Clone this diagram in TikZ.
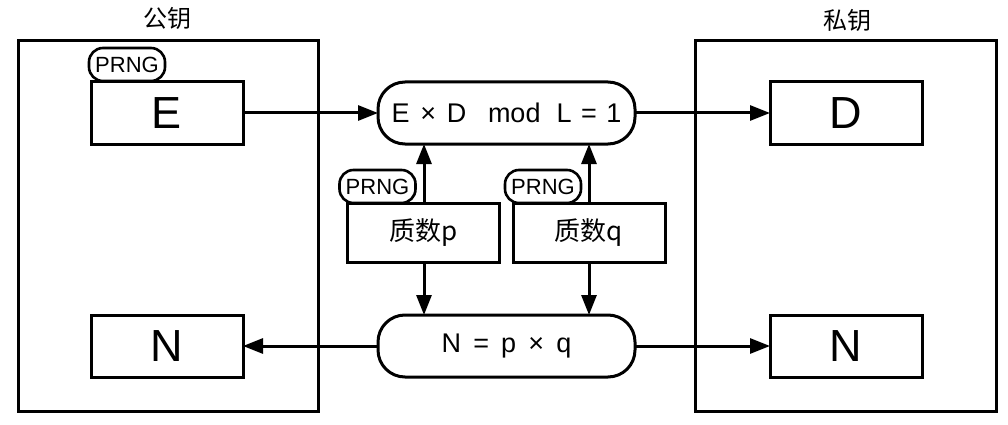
\documentclass[tikz,border=0pt]{standalone}
\usepackage{fontspec}
\setmainfont{Liberation Sans}
\newfontfamily\cjk{Noto Sans CJK SC}
\usetikzlibrary{arrows.meta}
\begin{document}
\begin{tikzpicture}[x=1pt,y=-1pt,
  every node/.style={inner sep=0pt,outer sep=0pt},
  frame/.style={draw,line width=3pt},
  keybox/.style={draw,line width=3pt,fill=white,minimum width=152pt,minimum height=62pt,font=\fontsize{45}{45}\selectfont},
  primebox/.style={draw,line width=3pt,fill=white,minimum width=152pt,minimum height=59pt,font=\cjk\fontsize{26}{26}\selectfont},
  calc/.style={draw,line width=3pt,fill=white,rounded corners=27pt,minimum width=257pt,minimum height=62pt,font=\fontsize{27}{27}\selectfont},
  prng/.style={draw,line width=2.6pt,fill=white,rounded corners=14pt,minimum width=76pt,minimum height=33pt,font=\fontsize{22}{22}\selectfont},
  ttl/.style={font=\cjk\fontsize{24}{24}\selectfont},
  arr/.style={line width=3pt,-{Triangle[length=20pt,width=15pt]}}
]
\useasboundingbox (0,0) rectangle (1008,425);
% outer frames
\draw[frame] (18,41) rectangle (318,411);
\draw[frame] (695,41) rectangle (996,411);
\node[ttl] (pub) at (167,18) {公钥};
\node[ttl] (priv) at (847,20) {私钥};
% key boxes
\node[keybox] (E) at (167,113) {E};
\node[keybox] (NL) at (167,346) {N};
\node[keybox] (D) at (846,113) {D};
\node[keybox] (NR) at (846,346) {N};
% calc pills
\node[calc] (ED) at (506.5,113) {E\hspace{0.4em}×\hspace{0.4em}D\hspace{0.8em}mod\hspace{0.6em}L\hspace{0.35em}=\hspace{0.35em}1};
\node[calc] (NPQ) at (506.5,346) {N\hspace{0.45em}=\hspace{0.45em}p\hspace{0.45em}×\hspace{0.45em}q};
% primes
\node[primebox] (P) at (423.5,232.5) {质数p};
\node[primebox] (Q) at (589,232.5) {质数q};
% PRNG pills
\node[prng,anchor=south] (prE) at (127,81) {PRNG};
\node[prng,anchor=south] (prP) at (377.5,203) {PRNG};
\node[prng,anchor=south] (prQ) at (543,203) {PRNG};
% arrows
\draw[arr] (E.east) -- (ED.west);
\draw[arr] (ED.east) -- (D.west);
\draw[arr] (NPQ.west) -- (NL.east);
\draw[arr] (NPQ.east) -- (NR.west);
\draw[arr] (P.north -| 424,0) -- (ED.south -| 424,0);
\draw[arr] (Q.north -| 589,0) -- (ED.south -| 589,0);
\draw[arr] (P.south -| 424,0) -- (NPQ.north -| 424,0);
\draw[arr] (Q.south -| 589,0) -- (NPQ.north -| 589,0);
\end{tikzpicture}
\end{document}
